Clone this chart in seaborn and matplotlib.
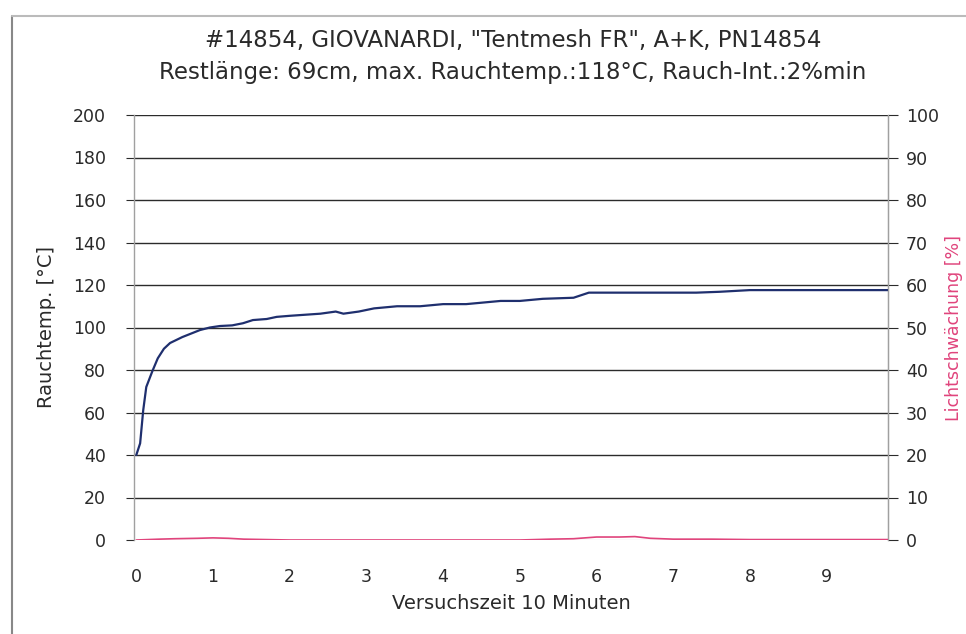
import numpy as np
import pandas as pd
import matplotlib
matplotlib.use("Agg")
import matplotlib.pyplot as plt
from matplotlib.lines import Line2D
from matplotlib.ticker import MultipleLocator
import seaborn as sns

# ── Data ──────────────────────────────────────────────────────────────────────
TITLE_1 = '#14854, GIOVANARDI, "Tentmesh FR", A+K, PN14854'
TITLE_2 = 'Restlänge: 69cm, max. Rauchtemp.:118°C, Rauch-Int.:2%min'

temp_time = [0.0, 0.05, 0.09, 0.13, 0.21, 0.28, 0.36, 0.44, 0.6, 0.83, 0.96, 1.09,
             1.25, 1.39, 1.52, 1.7, 1.83, 2.0, 2.2, 2.4, 2.6, 2.7, 2.9, 3.1,
             3.4, 3.7, 4.0, 4.3, 4.75, 5.0, 5.3, 5.7, 5.9, 6.2, 6.6, 7.0,
             7.3, 7.6, 8.0, 8.4, 8.8, 9.2, 9.6, 9.8]
temp_vals = [40, 45.5, 61, 72, 79.5, 85.5, 90, 92.7, 95.5, 98.8, 100, 100.7,
             101, 102, 103.5, 104, 105, 105.5, 106, 106.5, 107.5, 106.5, 107.5, 109,
             110, 110, 111, 111, 112.5, 112.5, 113.5, 114, 116.4, 116.4, 116.4, 116.4,
             116.4, 116.8, 117.6, 117.6, 117.6, 117.6, 117.6, 117.6]

light_time = [0.0, 0.3, 0.5, 0.8, 1.0, 1.2, 1.4, 1.7, 2.0, 5.0, 5.4, 5.7, 6.0,
              6.3, 6.5, 6.7, 7.0, 7.5, 8.0, 9.0, 9.8]
light_vals = [0.0, 0.2, 0.3, 0.4, 0.5, 0.4, 0.2, 0.1, 0.0, 0.0, 0.2, 0.3, 0.7,
              0.7, 0.8, 0.4, 0.2, 0.2, 0.1, 0.1, 0.1]

left_ticks = list(range(0, 201, 20))
right_ticks = list(range(0, 101, 10))
x_ticks = list(range(0, 10))

TEMP_COLOR = "#1f2f6e"
LIGHT_COLOR = "#e0447c"
GRID_COLOR = "#2b2b2b"
AXIS_COLOR = "#a0a0a0"
TEXT_COLOR = "#2a2a2a"

sns.set_style("white")
plt.rcParams["font.family"] = ["DejaVu Sans"]

temp_df = pd.DataFrame({"t": temp_time, "temp": temp_vals})
light_df = pd.DataFrame({"t": light_time, "light": light_vals})

fig = plt.figure(figsize=(9.66, 6.34), dpi=100)
ax = fig.add_axes([134 / 966, 94 / 634, 754 / 966, 425 / 634])

for y in left_ticks[1:]:
    ax.axhline(y, color=GRID_COLOR, linewidth=1.0, zorder=1)

sns.lineplot(data=temp_df, x="t", y="temp", ax=ax, color=TEMP_COLOR,
             linewidth=1.6, zorder=3)
ax.set_xlim(-0.03, 9.8)
ax.set_ylim(0, 200)
ax.set_yticks(left_ticks)
ax.set_xticks(x_ticks)
ax.xaxis.set_minor_locator(MultipleLocator(0.5))
ax.set_xlabel("Versuchszeit 10 Minuten", fontsize=14, color=TEXT_COLOR, labelpad=6)
ax.set_ylabel("Rauchtemp. [°C]", fontsize=14, color=TEXT_COLOR, labelpad=12)
ax.tick_params(axis="y", labelsize=12.5, colors=TEXT_COLOR, length=6, color=GRID_COLOR, pad=14)
ax.tick_params(axis="x", which="both", labelsize=12.5, colors=TEXT_COLOR, length=6,
               color=AXIS_COLOR, pad=14)
ax.tick_params(axis="x", which="minor", length=6)

for side in ["left", "right"]:
    ax.spines[side].set_color(AXIS_COLOR)
    ax.spines[side].set_linewidth(1.0)
ax.spines["top"].set_visible(False)
ax.spines["bottom"].set_visible(False)

ax2 = ax.twinx()
sns.lineplot(data=light_df, x="t", y="light", ax=ax2, color=LIGHT_COLOR,
             linewidth=1.2, zorder=4)
ax2.set_ylim(0, 100)
ax2.set_yticks(right_ticks)
ax2.set_ylabel("Lichtschwächung [%]", fontsize=12.5, color=LIGHT_COLOR, labelpad=4)
ax2.tick_params(axis="y", labelsize=12.5, colors=TEXT_COLOR, length=7, color=GRID_COLOR, pad=6)
for side in ["top", "bottom", "left"]:
    ax2.spines[side].set_visible(False)
ax2.spines["right"].set_color(AXIS_COLOR)

ax.axhline(0, color=AXIS_COLOR, linewidth=0.8, zorder=2)

fig.text(0.531, 1 - 40 / 634, TITLE_1, ha="center", va="center", fontsize=16.5, color=TEXT_COLOR)
fig.text(0.531, 1 - 72 / 634, TITLE_2, ha="center", va="center", fontsize=16.5, color=TEXT_COLOR)

# outer frame of the scanned chart
fig.add_artist(Line2D([12 / 966, 12 / 966], [0, 1 - 16 / 634], color="#888888", linewidth=1.5))
fig.add_artist(Line2D([12 / 966, 1], [1 - 16 / 634, 1 - 16 / 634], color="#bbbbbb", linewidth=1.5))

fig.savefig("out.png", dpi=100)
